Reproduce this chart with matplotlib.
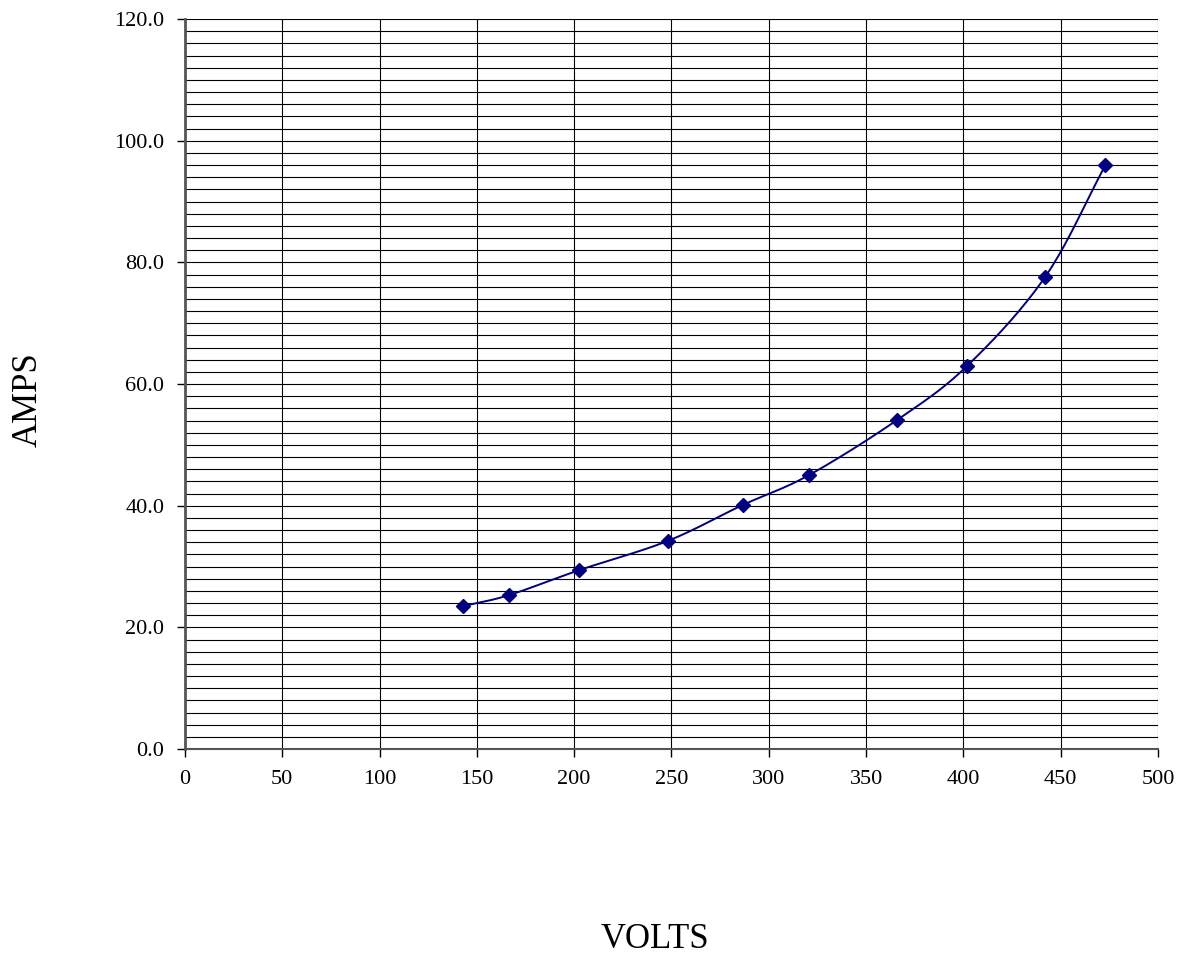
import numpy as np
import matplotlib.pyplot as plt
from matplotlib.ticker import MultipleLocator, FormatStrFormatter

volts = [143, 166.5, 202.5, 248, 286.5, 320.5, 366, 402, 442, 473]
amps = [23.5, 25.3, 29.4, 34.2, 40.1, 45.0, 54.1, 63.0, 77.6, 96.0]


def smooth(x, y, n=20):
    """Catmull-Rom curve through the points (like a spreadsheet 'smoothed line')."""
    p = np.column_stack([x, y]).astype(float)
    p = np.vstack([2 * p[0] - p[1], p, 2 * p[-1] - p[-2]])
    out = []
    t = np.linspace(0, 1, n, endpoint=False)[:, None]
    for i in range(1, len(p) - 2):
        p0, p1, p2, p3 = p[i - 1], p[i], p[i + 1], p[i + 2]
        seg = 0.5 * ((2 * p1) + (-p0 + p2) * t + (2 * p0 - 5 * p1 + 4 * p2 - p3) * t**2
                     + (-p0 + 3 * p1 - 3 * p2 + p3) * t**3)
        out.append(seg)
    out.append(p[-2][None, :])
    c = np.vstack(out)
    return c[:, 0], c[:, 1]


plt.rcParams['font.family'] = ['Liberation Serif', 'DejaVu Serif']

fig = plt.figure(figsize=(11.85, 9.57), dpi=100)
ax = fig.add_axes([0.1561, 0.2173, 0.8211, 0.7628])

sx, sy = smooth(volts, amps)
ax.plot(sx, sy, color='#000080', lw=1.4, zorder=3)
ax.plot(volts, amps, ls='none', marker='D', ms=7, color='#000080', zorder=4)

ax.set_xlim(0, 500)
ax.set_ylim(0, 120)
ax.xaxis.set_major_locator(MultipleLocator(50))
ax.yaxis.set_major_locator(MultipleLocator(20))
ax.yaxis.set_minor_locator(MultipleLocator(2))
ax.yaxis.set_major_formatter(FormatStrFormatter('%.1f'))

ax.grid(True, which='major', axis='both', color='black', lw=0.8)
ax.grid(True, which='minor', axis='y', color='black', lw=0.8)
ax.set_axisbelow(True)

for side in ('top', 'right'):
    ax.spines[side].set_visible(False)
ax.spines['left'].set_color('#555555')
ax.spines['left'].set_linewidth(2.0)
ax.spines['bottom'].set_color('#555555')
ax.spines['bottom'].set_linewidth(1.5)

ax.tick_params(axis='both', which='major', direction='out', length=6, width=1,
               labelsize=16, color='black')
ax.tick_params(axis='y', which='major', pad=9)
ax.tick_params(axis='x', which='major', pad=9)
ax.tick_params(axis='y', which='minor', length=0)

fig.text(0.553, 0.018, 'VOLTS', fontsize=25, ha='center', va='center')
fig.text(0.024, 0.582, 'AMPS', fontsize=25, ha='center', va='center', rotation=90)

fig.savefig('out.png', dpi=100)
